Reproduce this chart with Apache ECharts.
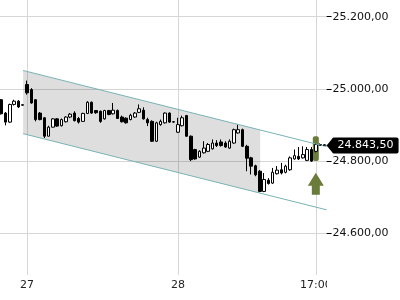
<!DOCTYPE html>
<html><head><meta charset="utf-8">
<script src="https://cdn.jsdelivr.net/npm/echarts@6/dist/echarts.min.js"></script>
<style>html,body{margin:0;padding:0;background:#fff}#c{width:400px;height:300px}</style>
</head><body><div id="c"></div>
<script>
// ---- data ----
const openV  = [24970,24933,24908,24957,24966,24956,25012,24998,24970,24933,24920,24869,24894,24917,24898,24909,24922,24933,24918,24910,24932,24963,24940,24938,24917,24940,24931,24940,24922,24919,24915,24922,24935,24941,24915,24910,24855,24901,24906,24933,24909,24880,24898,24926,24869,24832,24811,24823,24827,24834,24850,24853,24850,24836,24850,24878,24887,24841,24809,24787,24772,24716,24747,24739,24765,24776,24769,24776,24806,24813,24809,24802,24832,24827,24846,24845];
const closeV = [24931,24908,24957,24966,24950,24955,24989,24961,24915,24915,24869,24894,24917,24897,24915,24922,24930,24912,24908,24932,24963,24933,24934,24910,24940,24929,24941,24918,24909,24906,24927,24933,24945,24917,24906,24855,24906,24910,24933,24908,24908,24901,24920,24869,24804,24806,24827,24836,24846,24850,24843,24843,24839,24855,24887,24887,24841,24808,24786,24762,24716,24749,24738,24769,24775,24767,24786,24809,24815,24806,24818,24832,24800,24846,24845,24843.5];
const lowV   = [24929,24899,24906,24954,24947,24954,24984,24959,24910,24913,24864,24869,24893,24895,24896,24907,24919,24910,24904,24909,24931,24931,24931,24906,24915,24927,24929,24917,24907,24904,24913,24920,24933,24915,24897,24853,24853,24898,24904,24906,24907,24878,24896,24867,24800,24804,24809,24821,24825,24832,24839,24840,24837,24834,24848,24876,24839,24772,24763,24758,24714,24714,24735,24737,24763,24763,24766,24773,24804,24803,24807,24800,24798,24824,24842,24842];
const highV  = [24972,24936,24959,24970,24969,24957,25023,25002,24972,24936,24921,24898,24919,24919,24918,24924,24933,24938,24922,24934,24966,24965,24941,24940,24942,24942,24961,24943,24926,24921,24931,24936,24957,24949,24920,24913,24909,24915,24935,24935,24910,24920,24926,24928,24871,24834,24830,24855,24850,24860,24858,24860,24855,24860,24890,24901,24890,24845,24812,24790,24775,24767,24753,24781,24786,24795,24790,24813,24832,24839,24841,24839,24839,24850,24849,24847];
const tickIndex = [6, 41, 73];
const tickText  = ['27', '28', '17:00'];
const yTicks = [24400, 25400, 200];           // min, max, interval
const chanX = [5.1, 75.5];
const chanUpper = [25051, 24840];
const chanLower = [24876, 24665];
const fillX = [5.1, 60.1];
const fillUpper = [25051, 24886];
const fillLower = [24876, 24711];
const signalIdx = 73;
const signalBar = [24800, 24869];
const signalArrow = [24768, 24707];          // tip, bottom
const lastPrice = 24843.5;
const lastFrom = 74;

const N = openV.length;
const categories = openV.map((_, i) => String(i));

function fmt(v) {
  const s = Number(v).toFixed(2);
  const parts = s.split('.');
  return parts[0].replace(/\B(?=(\d{3})+(?!\d))/g, '.') + ',' + parts[1];
}
const FONT = 'DejaVu Sans';
const chart = echarts.init(document.getElementById('c'), null, {renderer: 'canvas'});
const isTick = (i) => tickIndex.indexOf(i) >= 0;

chart.setOption({
  animation: false,
  backgroundColor: '#fff',
  grid: [
    {left: -1, right: 73.4, top: -55.5, bottom: -5.5, containLabel: false, outerBoundsMode: 'none'},
    {left: 1.15, right: 75.55, top: 0, bottom: 25, containLabel: false, outerBoundsMode: 'none'}
  ],
  xAxis: [
    {gridIndex: 0, type: 'category', data: categories, boundaryGap: true, show: false, axisLine: {onZero: false}},
    {gridIndex: 0, type: 'value', min: -0.5, max: N - 0.5, show: false, axisLine: {onZero: false}},
    {gridIndex: 1, type: 'category', data: categories, boundaryGap: false,
      axisLine: {show: false, onZero: false}, axisTick: {show: false},
      axisLabel: {interval: (i) => isTick(i), margin: 5, fontSize: 11, fontFamily: FONT, color: '#222',
        formatter: (v, i) => { const k = tickIndex.indexOf(i); return k >= 0 ? tickText[k] : ''; }},
      splitLine: {show: true, interval: (i) => isTick(i), lineStyle: {color: '#d6d6d6', width: 1}}},
    {gridIndex: 1, type: 'category', data: categories, boundaryGap: false, offset: 18,
      axisLine: {show: false, onZero: false}, axisLabel: {show: false}, splitLine: {show: false},
      axisTick: {show: true, interval: (i) => isTick(i), length: 5, lineStyle: {color: '#000', width: 1}}}
  ],
  yAxis: [
    {gridIndex: 0, type: 'value', position: 'right', min: yTicks[0], max: yTicks[1], interval: yTicks[2],
      axisLine: {show: false, onZero: false},
      axisTick: {show: true, length: 5, lineStyle: {color: '#000'}},
      axisLabel: {margin: 6, fontSize: 11, fontFamily: FONT, color: '#111',
        formatter: (v) => (v <= yTicks[0] || v >= yTicks[1]) ? '' : fmt(v)},
      splitLine: {show: true, lineStyle: {color: '#d6d6d6', width: 1}}},
    {gridIndex: 1, type: 'value', min: 0, max: 1, show: false, axisLine: {onZero: false}}
  ],
  series: [
    {type: 'custom', xAxisIndex: 1, yAxisIndex: 0, data: [[fillX[0], fillUpper[0]]], silent: true,
      renderItem: (params, api) => ({
        type: 'polygon',
        shape: {points: [api.coord([fillX[0], fillUpper[0]]), api.coord([fillX[1], fillUpper[1]]),
                         api.coord([fillX[1], fillLower[1]]), api.coord([fillX[0], fillLower[0]])]},
        style: {fill: 'rgba(0,0,0,0.13)'}
      })},
    {type: 'line', xAxisIndex: 1, yAxisIndex: 0, symbol: 'none', silent: true,
      data: [[chanX[0], chanUpper[0]], [chanX[1], chanUpper[1]]],
      lineStyle: {color: '#78b4b8', width: 1}},
    {type: 'line', xAxisIndex: 1, yAxisIndex: 0, symbol: 'none', silent: true,
      data: [[chanX[0], chanLower[0]], [chanX[1], chanLower[1]]],
      lineStyle: {color: '#78b4b8', width: 1}},
    {type: 'custom', xAxisIndex: 1, yAxisIndex: 0, data: [[signalIdx, signalBar[0], signalBar[1]]], silent: true,
      renderItem: (params, api) => {
        const a = api.coord([api.value(0), api.value(2)]);
        const b = api.coord([api.value(0), api.value(1)]);
        return {type: 'rect', shape: {x: a[0] - 3, y: a[1], width: 6, height: b[1] - a[1], r: 2},
                style: {fill: '#6b7c3a'}};
      }},
    {type: 'custom', xAxisIndex: 1, yAxisIndex: 0, data: [[signalIdx, signalArrow[0], signalArrow[1]]], silent: true,
      renderItem: (params, api) => {
        const t = api.coord([api.value(0), api.value(1)]);
        const b = api.coord([api.value(0), api.value(2)]);
        const cx = t[0], ty = t[1], by = b[1], hh = 13;
        return {type: 'polygon', shape: {points: [[cx, ty], [cx + 8, ty + hh], [cx + 4, ty + hh], [cx + 4, by],
                [cx - 4, by], [cx - 4, ty + hh], [cx - 8, ty + hh]]}, style: {fill: '#6b7c3a'}};
      }},
    {type: 'candlestick', xAxisIndex: 0, yAxisIndex: 0, barWidth: 3,
      data: openV.map((o, i) => [o, closeV[i], lowV[i], highV[i]]),
      itemStyle: {color: '#ffffff', color0: '#000000', borderColor: '#000000', borderColor0: '#000000', borderWidth: 1}},
    {type: 'line', xAxisIndex: 1, yAxisIndex: 0, symbol: 'none', silent: true, clip: false,
      data: [[lastFrom, lastPrice], [N - 0.5, lastPrice]],
      lineStyle: {color: '#000', width: 1, type: [1, 2]},
      endLabel: {show: true, formatter: () => fmt(lastPrice), distance: 6, color: '#fff',
        backgroundColor: '#000', padding: [3, 5, 2, 5], borderRadius: 2, fontSize: 11, fontFamily: FONT},
      markPoint: {silent: true, symbol: 'path://M0,8.5 L7,0 L7,17 Z', symbolSize: [7, 17], symbolOffset: [3.5, 0],
        itemStyle: {color: '#000'}, label: {show: false},
        data: [{coord: [N - 0.5, lastPrice]}]}}
  ],
  graphic: [{type: 'rect', left: 327, top: 279, shape: {width: 73, height: 21}, style: {fill: '#fff'}, z: 100}]
});
</script></body></html>
